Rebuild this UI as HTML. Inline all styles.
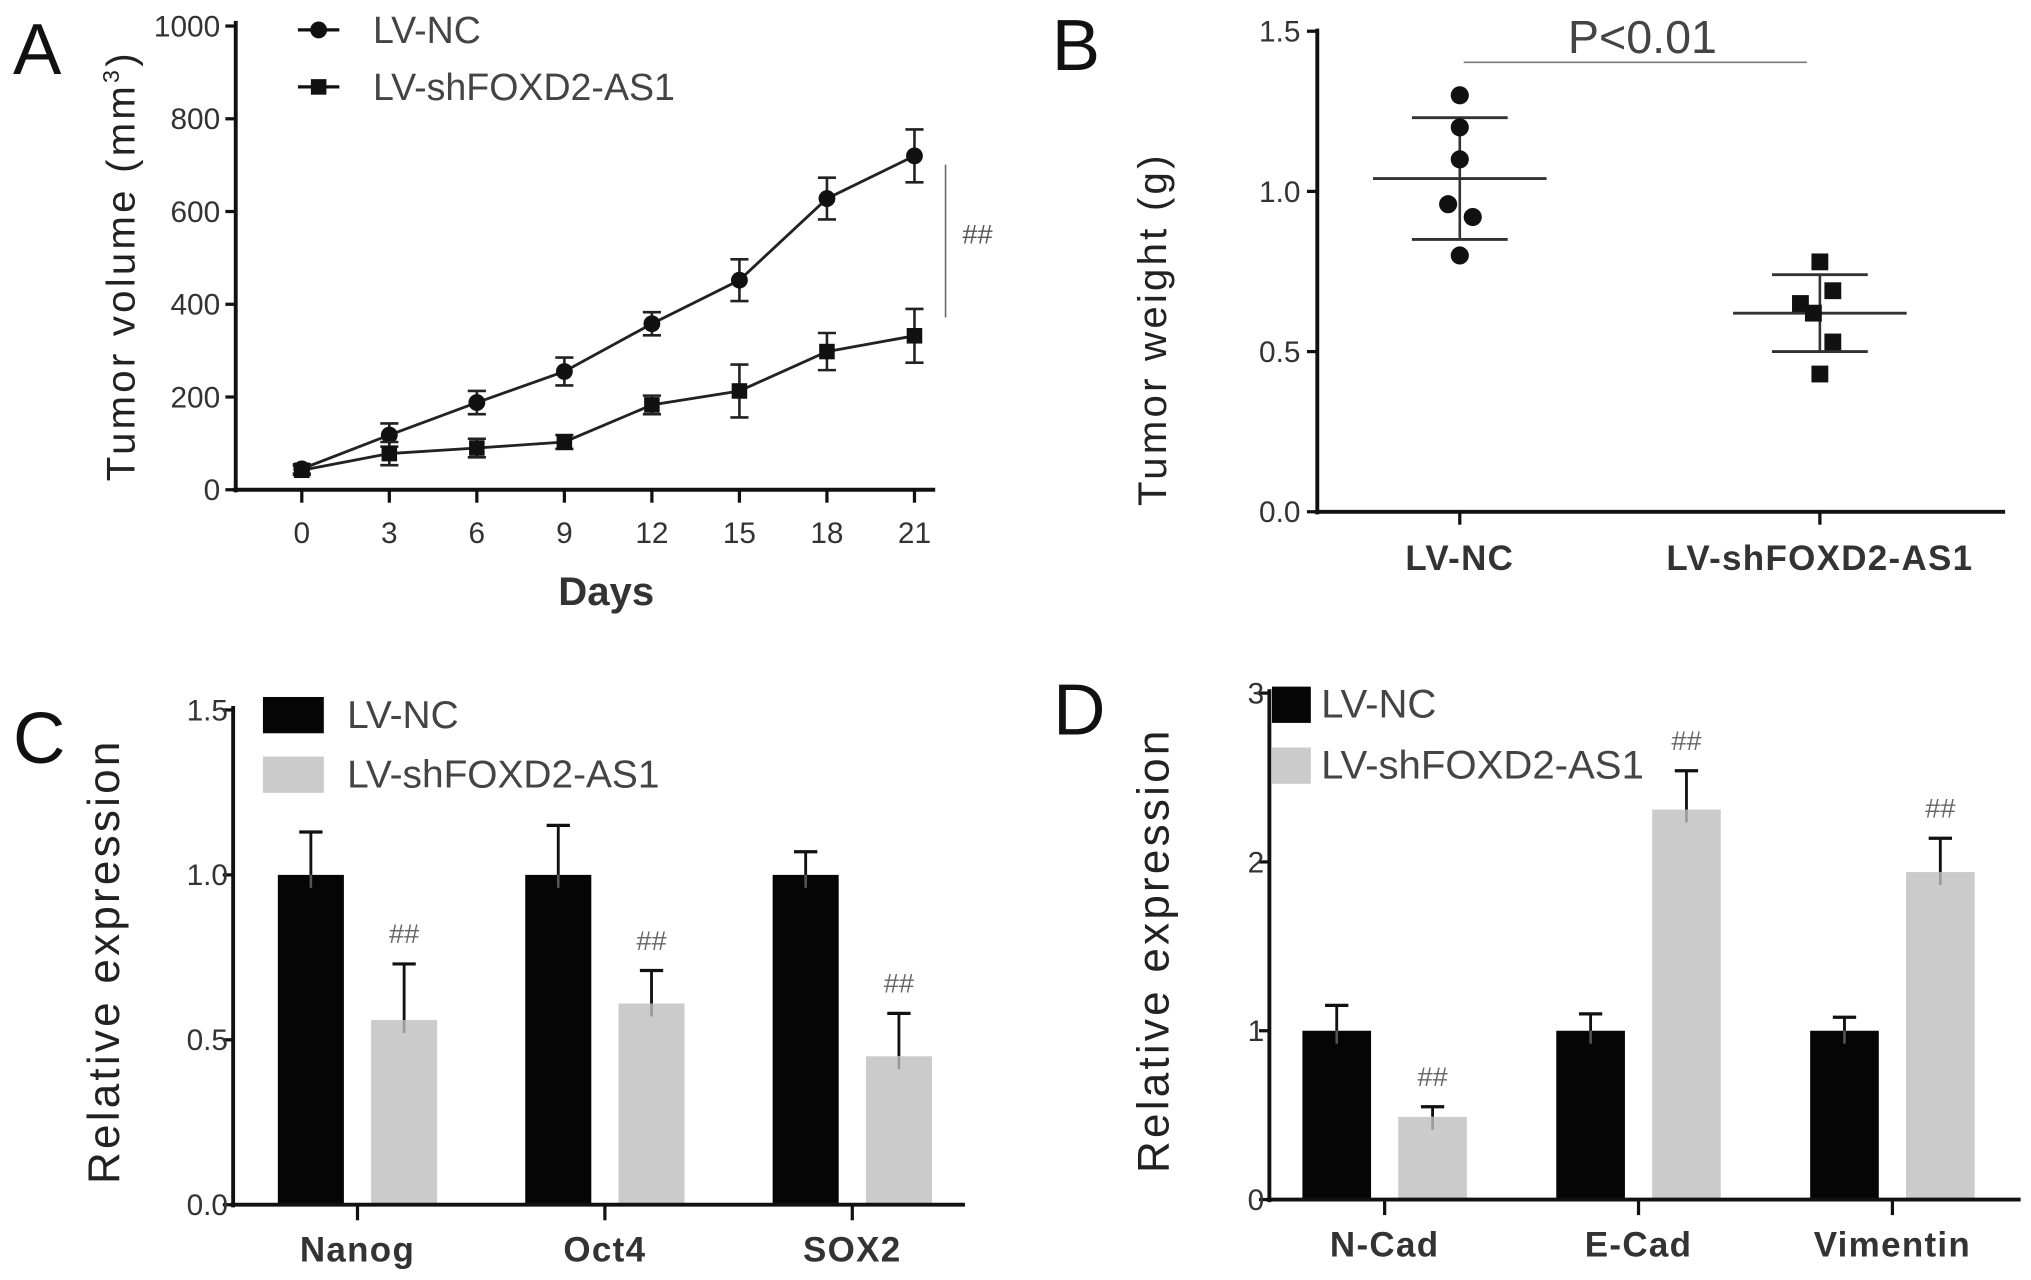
<!DOCTYPE html>
<html><head><meta charset="utf-8">
<style>
html,body{margin:0;padding:0;background:#fff;}
svg{display:block;font-family:"Liberation Sans",Arial,sans-serif;}
</style></head>
<body>
<svg id="fig" width="2031" height="1280" viewBox="0 0 1568 988" xmlns="http://www.w3.org/2000/svg">
<rect width="1568" height="988" fill="#fff"/>
<g id="pA"></g>
<g id="pB"></g>
<g id="pC"></g>
<g id="pD"></g>
</svg>
<script>
// Panel A data
const daysA = [0,3,6,9,12,15,18,21];
const ncVolA = [45,118,188,255,358,452,628,720];
const ncErrA = [10,25,25,30,25,45,45,57];
const shVolA = [42,78,90,103,183,213,298,332];
const shErrA = [10,25,20,15,20,57,40,58];
const yTicksA = [0,200,400,600,800,1000];
// Panel B data
const bGroups = ["LV-NC","LV-shFOXD2-AS1"];
const bNC = [1.30,1.20,1.10,0.96,0.92,0.80];
const bSH = [0.78,0.69,0.65,0.62,0.53,0.43];
const bMean = [1.04,0.62];
const bSD = [0.19,0.12];
const yTicksB = [0.0,0.5,1.0,1.5];
// Panel C data
const cCats = ["Nanog","Oct4","SOX2"];
const cNC = [1.0,1.0,1.0];
const cNCErr = [0.13,0.15,0.07];
const cSH = [0.56,0.61,0.45];
const cSHErr = [0.17,0.10,0.13];
const yTicksC = ["0.0","0.5","1.0","1.5"];
// Panel D data
const dCats = ["N-Cad","E-Cad","Vimentin"];
const dNC = [1.0,1.0,1.0];
const dNCErr = [0.15,0.10,0.08];
const dSH = [0.49,2.31,1.94];
const dSHErr = [0.06,0.23,0.20];
const yTicksD = ["0","1","2","3"];

const NS="http://www.w3.org/2000/svg";
function mk(parent,tag,attrs,text){
  const e=document.createElementNS(NS,tag);
  for(const k in attrs) e.setAttribute(k,attrs[k]);
  if(text!==undefined) e.textContent=text;
  parent.appendChild(e);
  return e;
}
function line(p,x1,y1,x2,y2,w,c){return mk(p,'line',{x1,y1,x2,y2,stroke:c||'#111','stroke-width':w||2});}

// ---------- Panel A ----------
(function(){
  const g=document.getElementById('pA');
  const X=d=>233+(706-233)*d/21, Y=v=>378-(378-20)*v/1000;
  let t=mk(g,'text',{x:10,y:57,'font-size':56,fill:'#111'},'A');
   
  let a=line(g,182,16,182,380,3);  
  a=line(g,180,378,722,378,3);  
  yTicksA.forEach(v=>{line(g,174,Y(v),182,Y(v),2.5);
    const tt=mk(g,'text',{x:170,y:Y(v)+8,'font-size':23,'text-anchor':'end',fill:'#333'},String(v));
     });
  daysA.forEach(d=>{line(g,X(d),378,X(d),388,2.5);
    const tt=mk(g,'text',{x:X(d),y:419,'font-size':23,'text-anchor':'middle',fill:'#333'},String(d));
     });
  t=mk(g,'text',{x:468,y:467,'font-size':31,'font-weight':'bold','text-anchor':'middle',fill:'#333'},'Days');
   
  t=mk(g,'text',{transform:'translate(104,205) rotate(-90)','font-size':31,'text-anchor':'middle',fill:'#222','letter-spacing':'2.5'});
   
  t.innerHTML='Tumor volume (mm<tspan dy="-12" font-size="18">3</tspan><tspan dy="12">)</tspan>';
  function series(vals,errs,sq,name){
    const sg=mk(g,'g',{});
     
    mk(sg,'polyline',{points:daysA.map((d,i)=>X(d)+','+Y(vals[i])).join(' '),fill:'none',stroke:'#222','stroke-width':2.2});
    daysA.forEach((d,i)=>{
      const x=X(d),y1=Y(vals[i]+errs[i]),y2=Y(vals[i]-errs[i]);
      line(sg,x,y1,x,y2,2,'#222');line(sg,x-7,y1,x+7,y1,2,'#222');line(sg,x-7,y2,x+7,y2,2,'#222');
      let m= sq? mk(sg,'rect',{x:x-6,y:Y(vals[i])-6,width:12,height:12,fill:'#111'}) : mk(sg,'circle',{cx:x,cy:Y(vals[i]),r:6.5,fill:'#111'});
       
    });
  }
  series(ncVolA,ncErrA,false,'series-lv-nc');
  series(shVolA,shErrA,true,'series-lv-shfoxd2-as1');
  let lg=mk(g,'g',{});  
  line(lg,230,23,262,23,2.5); mk(lg,'circle',{cx:246,cy:23,r:6.5,fill:'#111'});
  t=mk(lg,'text',{x:288,y:33,'font-size':29,fill:'#444'},'LV-NC');  
  line(lg,230,67,262,67,2.5); mk(lg,'rect',{x:240,y:61,width:12,height:12,fill:'#111'});
  t=mk(lg,'text',{x:288,y:77,'font-size':29,fill:'#444'},'LV-shFOXD2-AS1');  
  line(g,730,127,730,245,1.2,'#666');
  t=mk(g,'text',{x:743,y:188,'font-size':21,fill:'#555'},'##');  
})();

// ---------- Panel B ----------
(function(){
  const g=document.getElementById('pB');
  const Y=v=>395-(395-24)*v/1.5;
  const gx=[1127,1405];
  const jit=[0,0,0,-9,10,0];
  const jitS=[0,10,-15,-5,10,0];
  let t=mk(g,'text',{x:812,y:54,'font-size':56,fill:'#111'},'B');
   
  let a=line(g,1017,22,1017,397,3);  
  a=line(g,1015,395,1548,395,3);  
  yTicksB.forEach(v=>{line(g,1009,Y(v),1017,Y(v),2.5);
    const tt=mk(g,'text',{x:1004,y:Y(v)+8,'font-size':23,'text-anchor':'end',fill:'#333'},v.toFixed(1));
     });
  bGroups.forEach((c,i)=>{line(g,gx[i],395,gx[i],405,2.5);
    const tt=mk(g,'text',{x:gx[i],y:440,'font-size':27,'font-weight':'bold','text-anchor':'middle',fill:'#333','letter-spacing':'1'},c);
     });
  t=mk(g,'text',{transform:'translate(900,254) rotate(-90)','font-size':31,'text-anchor':'middle',fill:'#222','letter-spacing':'2.5'},'Tumor weight (g)');
   
  [bNC,bSH].forEach((arr,gi)=>{
    const sg=mk(g,'g',{});  
    const x=gx[gi], m=bMean[gi], s=bSD[gi];
    line(sg,x,Y(m+s),x,Y(m-s),2,'#333');
    line(sg,x-67,Y(m),x+67,Y(m),2.2,'#333');
    line(sg,x-37,Y(m+s),x+37,Y(m+s),2.2,'#333');
    line(sg,x-37,Y(m-s),x+37,Y(m-s),2.2,'#333');
    arr.forEach((v,i)=>{
      const px=x+(gi?jitS[i]:jit[i]);
      let p= gi? mk(sg,'rect',{x:px-6.5,y:Y(v)-6.5,width:13,height:13,fill:'#111'}) : mk(sg,'circle',{cx:px,cy:Y(v),r:7,fill:'#111'});
       
    });
  });
  line(g,1130,48,1395,48,1.3,'#777');
  t=mk(g,'text',{x:1268,y:41,'font-size':36,'text-anchor':'middle',fill:'#444'},'P<0.01');
   
})();

// ---------- Bar panels ----------
function barPanel(id,label,lx,ly,axX,yTop,y0,xEnd,ymax,ticks,cats,nc,ncE,sh,shE,tick0,spacing,bw,off,legend,titleX){
  const g=document.getElementById(id);
  const Y=v=>y0-(y0-yTop)*v/ymax;
  let t=mk(g,'text',{x:lx,y:ly,'font-size':56,fill:'#111'},label);
   
  ticks.forEach(s=>{const v=parseFloat(s);line(g,axX-8,Y(v),axX,Y(v),2.5);
    const tt=mk(g,'text',{x:axX-4,y:Y(v)+8,'font-size':23,'text-anchor':'end',fill:'#333'},s);
     });
  cats.forEach((c,i)=>{
    const cx=tick0+i*spacing;
    const bg=mk(g,'g',{});  
    const bx1=cx-off, bx2=cx+off;
    line(bg,bx1,Y(nc[i]),bx1,Y(nc[i]+ncE[i]),2.2,'#111');line(bg,bx1-9,Y(nc[i]+ncE[i]),bx1+9,Y(nc[i]+ncE[i]),2.5,'#111');
    line(bg,bx2,Y(sh[i]),bx2,Y(sh[i]+shE[i]),2.2,'#111');line(bg,bx2-9,Y(sh[i]+shE[i]),bx2+9,Y(sh[i]+shE[i]),2.5,'#111');
    let r=mk(bg,'rect',{x:bx1-bw/2,y:Y(nc[i]),width:bw,height:y0-Y(nc[i]),fill:'#050505'});
     
    r=mk(bg,'rect',{x:bx2-bw/2,y:Y(sh[i]),width:bw,height:y0-Y(sh[i]),fill:'#cbcbcb'});
     
    line(bg,bx1,Y(nc[i]),bx1,Y(nc[i])+10,2,'#555');
    line(bg,bx2,Y(sh[i]),bx2,Y(sh[i])+10,2,'#999');
    const m=mk(bg,'text',{x:bx2,y:Y(sh[i]+shE[i])-16,'font-size':21,'text-anchor':'middle',fill:'#666'},'##');
     
    line(g,cx,y0,cx,y0+12,2.5);
    const tt=mk(g,'text',{x:cx,y:y0+44,'font-size':27,'font-weight':'bold','text-anchor':'middle',fill:'#333','letter-spacing':'1'},c);
     
  });
  let a=line(g,axX,yTop-3,axX,y0+2,3);  
  a=line(g,axX-2,y0,xEnd,y0,3);  
  t=mk(g,'text',{transform:'translate('+titleX+','+((yTop+y0)/2+3)+') rotate(-90)','font-size':34,'text-anchor':'middle',fill:'#222','letter-spacing':'2.5'},'Relative expression');
   
  const lg=mk(g,'g',{});  
  const [sx,sy1,sy2,sw,sh2,tx,fs]=legend;
  mk(lg,'rect',{x:sx,y:sy1,width:sw,height:sh2,fill:'#050505'});
  mk(lg,'rect',{x:sx,y:sy2,width:sw,height:sh2,fill:'#cbcbcb'});
  t=mk(lg,'text',{x:tx,y:sy1+sh2/2+10,'font-size':fs,fill:'#444'},'LV-NC');  
  t=mk(lg,'text',{x:tx,y:sy2+sh2/2+10,'font-size':fs,fill:'#444'},'LV-shFOXD2-AS1');  
}
barPanel('pC','C',10,589,180,548,930,745,1.5,yTicksC,cCats,cNC,cNCErr,cSH,cSHErr,276,191,51,36,[203,538,584,47,28,268,30],92);
barPanel('pD','D',813,567,980,535,926,1560,3,yTicksD,dCats,dNC,dNCErr,dSH,dSHErr,1069,196,53,37,[982,530,577,30,28,1020,31],902);
</script>
</body></html>
